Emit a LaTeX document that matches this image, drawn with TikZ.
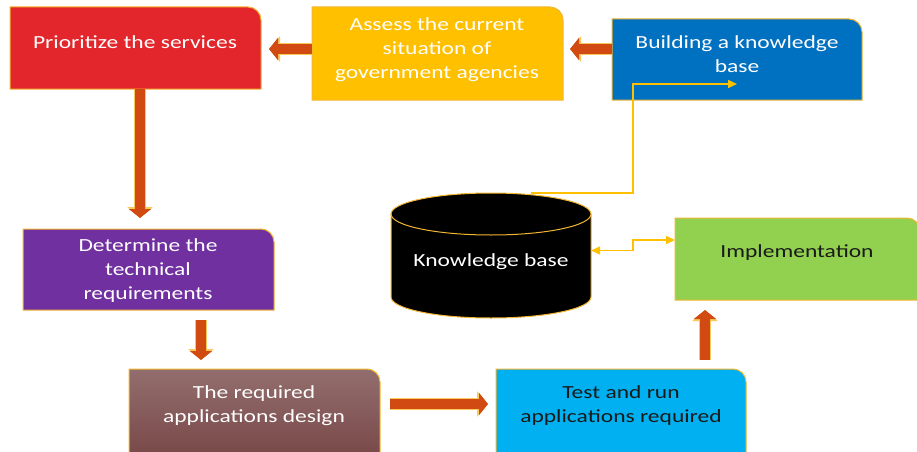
\documentclass[tikz,border=0pt]{standalone}
\usepackage{fontspec}
\setmainfont{Carlito}[FakeStretch=1.27]
\usetikzlibrary{arrows.meta,calc}
\definecolor{redc}{HTML}{E3262B}
\definecolor{yellowc}{HTML}{FFC000}
\definecolor{bluec}{HTML}{0070C0}
\definecolor{purplec}{HTML}{7030A0}
\definecolor{greenc}{HTML}{92D050}
\definecolor{cyanc}{HTML}{00B0F0}
\definecolor{brownT}{HTML}{936E6E}
\definecolor{brownB}{HTML}{7A4A4A}
\definecolor{arrowc}{HTML}{D04A12}
\definecolor{arrowedge}{HTML}{F9C85A}
\definecolor{edgec}{HTML}{F2B632}
\definecolor{linkc}{HTML}{FFC000}
\definecolor{darktext}{HTML}{1A1A1A}
\newcommand\flowbox[6]{%
  \node[box, minimum width=#4pt, minimum height=#5pt] (#1) at (#2,{451-#3}) {};
  \path[#6, edgeline] (#1.south west) -- (#1.north west) -- ([xshift=-13pt]#1.north east)
    arc[start angle=90,end angle=0,radius=13pt] -- (#1.south east) -- cycle;
}
\begin{document}
\begin{tikzpicture}[x=1pt,y=1pt,
  box/.style={inner sep=0pt, outer sep=0pt, anchor=north west, rectangle},
  txt/.style={align=center, font=\fontsize{18.5}{24}\selectfont, inner sep=0pt},
  bigarrow/.style={draw=arrowc, line width=10pt, -{Triangle[width=22pt,length=9pt]},
    preaction={draw=arrowedge, line width=12pt, -{Triangle[width=25pt,length=11pt]}}},
  thinline/.style={draw=linkc, line width=1.5pt, >={Triangle[width=8pt,length=9pt]}},
  edgeline/.style={draw=edgec, line width=1pt}]
\useasboundingbox (0,0) rectangle (917,451);
\clip (0,0) rectangle (917,451);
\fill[white] (0,0) rectangle (917,451);

\flowbox{prio}{10}{7}{251}{82}{fill=redc}
\flowbox{assess}{312}{7}{251}{93}{fill=yellowc}
\flowbox{build}{612}{19}{250}{81}{fill=bluec}
\flowbox{tech}{23}{229}{251}{81}{fill=purplec}
\flowbox{design}{129}{369}{251}{84}{top color=brownT, bottom color=brownB}
\flowbox{test}{496}{369}{250}{84}{fill=cyanc}
\flowbox{impl}{675}{218}{245}{82}{fill=greenc}

% cylinder
\node[box, minimum width=200pt, minimum height=125pt] (kb) at (391,258) {};
\path[fill=black, edgeline] (391,237) -- (391,154)
  arc[start angle=180,end angle=360,x radius=100,y radius=21] -- (591,237)
  arc[start angle=0,end angle=180,x radius=100,y radius=21] -- cycle;
\draw[edgeline] (391,237) arc[start angle=180,end angle=360,x radius=100,y radius=21];

% texts
\node[txt, text=white] (prio-t) at (135,409) {Prioritize the services};
\node[txt, text=white] (assess-t) at (437,401) {Assess the current\\situation of\\government agencies};
\node[txt, text=white] (build-t) at (737,397) {Building a knowledge\\base};
\node[txt, text=white] (tech-t) at (148,180.5) {Determine the\\technical\\requirements};
\node[txt, text=darktext!0!white] (design-t) at (254,45.5) {The required\\applications design};
\node[txt, text=darktext] (test-t) at (621,45.5) {Test and run\\applications required};
\node[txt, text=darktext] (impl-t) at (797,198) {Implementation};
\node[txt, text=white] (kb-t) at (491,189) {Knowledge base};

% thick arrows
\draw[bigarrow, shorten >=8pt] (assess.west |- 0,402) -- (prio.east |- 0,402);
\draw[bigarrow, shorten >=7pt] (build.west |- 0,402) -- (assess.east |- 0,402);
\draw[bigarrow, shorten >=11pt] (140,0 |- prio.south) -- (140,0 |- tech.north);
\draw[bigarrow, shorten <=10pt, shorten >=9pt] (201,0 |- tech.south) -- (201,0 |- design.north);
\draw[bigarrow, shorten <=10pt, shorten >=8pt] (design.east |- 0,47) -- (test.west |- 0,47);
\draw[bigarrow, shorten <=9pt, shorten >=10pt] (705,0 |- test.north) -- (705,0 |- impl.south);

% thin connectors
\coordinate (kbin) at (737,367);
\draw[thinline, ->] ([xshift=40pt]kb.north) -| (633,367) -- (kbin);
\draw[thinline, <->] ([yshift=5pt]kb.east) -- ++(42,0) |- (impl.west |- 0,211);
\end{tikzpicture}
\end{document}
